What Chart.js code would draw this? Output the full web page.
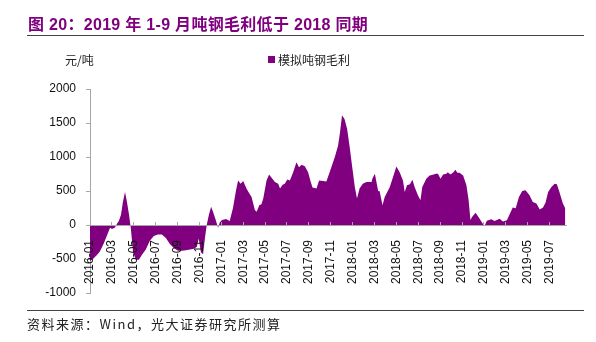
<!DOCTYPE html>
<html>
<head>
<meta charset="utf-8">
<script src="https://cdn.jsdelivr.net/npm/chart.js@4.4.1/dist/chart.umd.min.js"></script>
<style>
  html, body { margin: 0; padding: 0; background: #fff; }
  #wrap { position: relative; width: 596px; height: 342px; overflow: hidden; }
  #c { position: absolute; left: 0; top: 0; }
  .t { position: absolute; white-space: nowrap; }
  #title { left: 28px; top: 11px; font: bold 16px "Liberation Sans", "Noto Sans CJK SC", sans-serif; color: #800080; letter-spacing: 0.3px; }
  #tline { left: 27px; top: 35px; width: 557px; height: 1px; background: #444; }
  #sline { left: 27px; top: 310px; width: 557px; height: 1px; background: #444; }
  #source { left: 27px; top: 314px; font: 13px "Noto Sans CJK SC", "Liberation Sans", sans-serif; color: #222; letter-spacing: 1.5px; }
  #unit { left: 65px; top: 51px; font: 12px "Noto Sans CJK SC", sans-serif; color: #222; }
  #legsq { position: absolute; left: 268px; top: 56px; width: 7px; height: 7px; background: #800080; }
  #legtx { left: 278px; top: 51px; font: 12px "Noto Sans CJK SC", sans-serif; color: #222; }
</style>
</head>
<body>
<div id="wrap">
  <canvas id="c" width="596" height="342"></canvas>
  <div class="t" id="title">图 20：2019 年 1-9 月吨钢毛利低于 2018 同期</div>
  <div id="tline" class="t"></div>
  <div class="t" id="unit">元/吨</div>
  <div id="legsq"></div>
  <div class="t" id="legtx">模拟吨钢毛利</div>
  <div id="sline" class="t"></div>
  <div class="t" id="source">资料来源：Wind，光大证券研究所测算</div>
</div>
<script>
const seriesName = '模拟吨钢毛利';
const dates = [
'2016-01-01','2016-01-09','2016-01-20','2016-01-28','2016-02-09','2016-02-20','2016-02-26','2016-03-01','2016-03-09','2016-03-15',
'2016-03-20','2016-03-26','2016-04-01','2016-04-07','2016-04-12','2016-04-18','2016-04-23','2016-04-29','2016-05-07','2016-05-15',
'2016-05-23','2016-06-04','2016-06-15','2016-06-26','2016-07-07','2016-07-18','2016-07-29','2016-08-10','2016-08-21','2016-09-02',
'2016-09-13','2016-09-24','2016-10-05','2016-10-16','2016-10-24','2016-10-29','2016-11-05','2016-11-11','2016-11-16','2016-11-21',
'2016-11-27','2016-12-03','2016-12-08','2016-12-16','2016-12-22','2016-12-27','2017-01-03','2017-01-14','2017-01-24','2017-02-03',
'2017-02-11','2017-02-17','2017-02-24','2017-03-01','2017-03-10','2017-03-17','2017-03-24','2017-04-03','2017-04-08','2017-04-15',
'2017-04-21','2017-04-26','2017-05-05','2017-05-12','2017-05-21','2017-05-28','2017-06-07','2017-06-12','2017-06-19','2017-06-25',
'2017-07-02','2017-07-09','2017-07-18','2017-07-27','2017-08-04','2017-08-11','2017-08-20','2017-08-29','2017-09-05','2017-09-11',
'2017-09-22','2017-09-29','2017-10-10','2017-10-19','2017-10-28','2017-11-12','2017-11-21','2017-11-26','2017-12-02','2017-12-09',
'2017-12-16','2017-12-23','2017-12-30','2018-01-07','2018-01-13','2018-01-20','2018-01-29','2018-02-09','2018-02-23','2018-02-25',
'2018-03-02','2018-03-11','2018-03-15','2018-03-23','2018-03-29','2018-04-13','2018-05-01','2018-05-10','2018-05-19','2018-05-24',
'2018-05-30','2018-06-08','2018-06-15','2018-06-21','2018-06-30','2018-07-07','2018-07-12','2018-07-23','2018-08-02','2018-08-11',
'2018-08-19','2018-08-25','2018-09-02','2018-09-09','2018-09-18','2018-09-22','2018-09-29','2018-10-06','2018-10-13','2018-10-18',
'2018-10-24','2018-11-04','2018-11-13','2018-11-19','2018-11-24','2018-11-29','2018-12-08','2018-12-17','2018-12-27','2019-01-03',
'2019-01-09','2019-01-21','2019-01-30','2019-02-14','2019-02-23','2019-03-04','2019-03-20','2019-03-28','2019-04-07','2019-04-16',
'2019-04-25','2019-05-06','2019-05-15','2019-05-25','2019-06-04','2019-06-13','2019-06-20','2019-06-27','2019-07-06','2019-07-15',
'2019-07-21','2019-07-28','2019-08-07','2019-08-14'
];
const margin = [
-530,-500,-440,-390,-270,-120,-40,-60,-40,20,
60,150,330,485,350,150,-50,-400,-510,-510,
-440,-360,-230,-160,-140,-140,-190,-280,-340,-380,
-380,-370,-360,-350,-320,-200,-400,-430,-200,0,
150,267,200,70,-40,40,73,87,60,250,
500,656,608,646,535,470,413,219,194,292,
306,389,656,744,680,632,608,535,593,608,
670,656,777,923,850,885,865,777,656,550,
535,656,646,641,777,996,1166,1347,1614,1555,
1410,1142,850,558,389,535,608,632,632,680,
753,500,496,292,413,558,860,777,656,486,
583,598,666,558,437,365,558,680,729,739,
753,753,680,744,753,777,744,768,812,768,
768,729,583,365,73,121,180,112,24,-10,
63,83,58,92,50,70,258,245,413,500,
510,437,340,316,228,258,330,486,558,608,
598,486,325,243
];
const tickLabels = ['2016-01','2016-03','2016-05','2016-07','2016-09','2016-11',
  '2017-01','2017-03','2017-05','2017-07','2017-09','2017-11',
  '2018-01','2018-03','2018-05','2018-07','2018-09','2018-11',
  '2019-01','2019-03','2019-05','2019-07'];
const yTicks = [-1000, -500, 0, 500, 1000, 1500, 2000];

// month index since 2016-01 (fractional); day defaults to 1
function monthPos(s) {
  const parts = s.split('-').map(Number);
  const y = parts[0], m = parts[1], d = parts[2] || 1;
  return (y - 2016) * 12 + (m - 1) + (d - 1) / 30;
}
const tickPos = tickLabels.map(monthPos);
const points = dates.map((d, i) => ({ x: monthPos(d), y: margin[i] }));

Chart.defaults.font.family = '"Liberation Sans", Arial, sans-serif';
const axisColor = '#a6a6a6';

new Chart(document.getElementById('c'), {
  type: 'line',
  data: {
    datasets: [{
      label: seriesName,
      data: points,
      fill: 'origin',
      backgroundColor: '#800080',
      borderColor: '#800080',
      borderWidth: 0,
      pointRadius: 0,
      tension: 0
    }]
  },
  options: {
    responsive: false,
    animation: false,
    devicePixelRatio: 1,
    layout: { padding: { top: 89, right: 30, bottom: 49, left: 0 } },
    plugins: { legend: { display: false }, tooltip: { enabled: false } },
    scales: {
      x: {
        type: 'linear',
        min: 0,
        max: 43.5,
        position: { y: 0 },
        afterBuildTicks: (axis) => { axis.ticks = tickPos.map(v => ({ value: v })); },
        grid: { drawOnChartArea: false, drawTicks: true, tickLength: -4, color: axisColor, z: 1 },
        border: { color: axisColor, width: 1, z: 1 },
        ticks: {
          autoSkip: false,
          minRotation: 90,
          maxRotation: 90,
          padding: 19,
          color: '#111',
          font: { size: 12 },
          z: 1,
          callback: (v) => { const i = tickPos.indexOf(v); return i >= 0 ? tickLabels[i] : ''; }
        }
      },
      y: {
        min: -1000,
        max: 2000,
        afterFit: (s) => { s.width = 90; },
        afterBuildTicks: (axis) => { axis.ticks = yTicks.map(v => ({ value: v })); },
        grid: { drawOnChartArea: false, drawTicks: true, tickLength: 4, color: axisColor },
        border: { color: axisColor, width: 1 },
        ticks: { padding: 10, color: '#111', font: { size: 12 }, callback: (v) => String(v) }
      }
    }
  }
});
</script>
</body>
</html>
